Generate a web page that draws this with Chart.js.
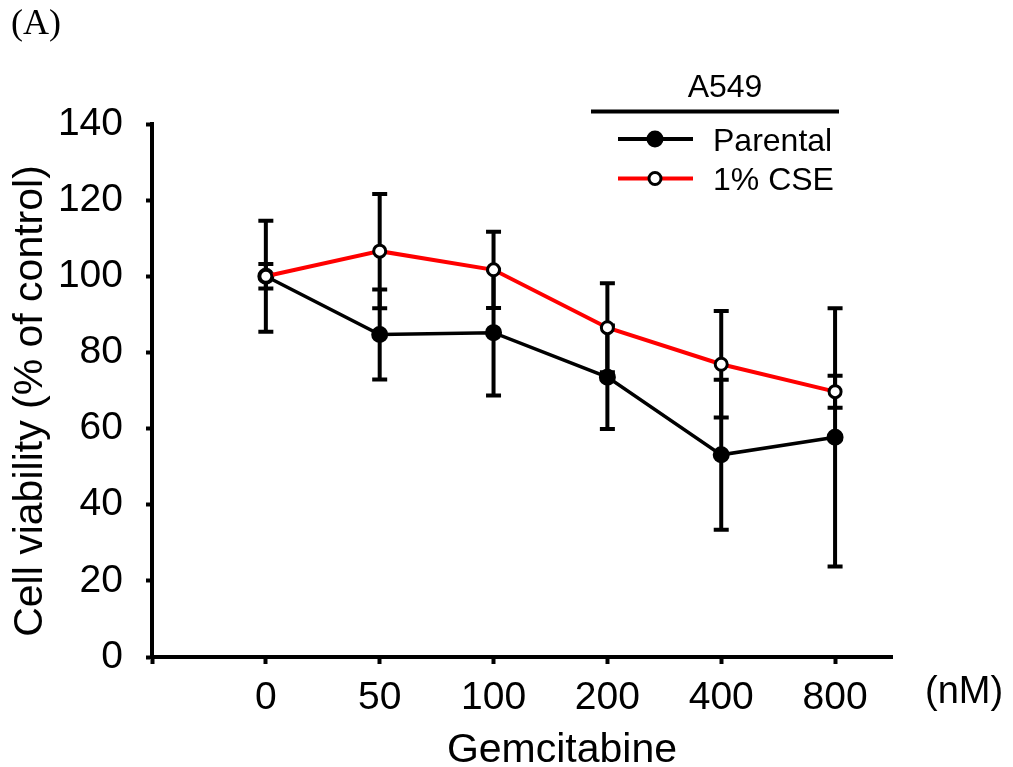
<!DOCTYPE html>
<html>
<head>
<meta charset="utf-8">
<script src="https://cdn.jsdelivr.net/npm/chart.js@4"></script>
<style>
  body { margin: 0; background: #fff; }
  #chart { display: block; }
</style>
</head>
<body>
<canvas id="chart" width="1013" height="767"></canvas>
<script>
// values
var xLabels = ['0', '50', '100', '200', '400', '800'];
var xTicks = [-1, 0, 1, 2, 3, 4, 5];
var yTicks = [0, 20, 40, 60, 80, 100, 120, 140];
var parental = [100, 84.7, 85.2, 73.5, 53.1, 57.7];
var parentalErr = [3.2, 11.8, 16.5, 13.6, 19.7, 33.9];
var cse = [100, 106.6, 101.7, 86.5, 76.9, 69.7];
var cseErr = [14.6, 15.0, 10.0, 11.7, 14.0, 4.2];

var FONT = "'Liberation Sans', Arial, sans-serif";

function toPoints(vals) {
    return vals.map(function (v, i) { return { x: i, y: v }; });
}

// error bars, drawn under the lines and markers
var errorBars = {
    id: 'errorBars',
    beforeDatasetsDraw: function (chart) {
        var ctx = chart.ctx;
        var xs = chart.scales.x, ys = chart.scales.y;
        ctx.save();
        ctx.strokeStyle = '#000';
        ctx.lineWidth = 4;
        chart.data.datasets.forEach(function (ds) {
            ds.data.forEach(function (p, i) {
                var e = ds.errors[i];
                var px = xs.getPixelForValue(p.x);
                var top = ys.getPixelForValue(p.y + e);
                var bot = ys.getPixelForValue(p.y - e);
                ctx.beginPath();
                ctx.moveTo(px, top); ctx.lineTo(px, bot);
                ctx.moveTo(px - 7.5, top); ctx.lineTo(px + 7.5, top);
                ctx.moveTo(px - 7.5, bot); ctx.lineTo(px + 7.5, bot);
                ctx.stroke();
            });
        });
        ctx.restore();
    }
};

// titles, unit, panel letter and the legend
var extras = {
    id: 'extras',
    afterDraw: function (chart) {
        var ctx = chart.ctx;
        ctx.save();
        ctx.fillStyle = '#000';

        ctx.font = "36px 'Liberation Serif', 'Times New Roman', serif";
        ctx.textAlign = 'left';
        ctx.textBaseline = 'alphabetic';
        ctx.fillText('(A)', 11, 34);

        ctx.font = '41px ' + FONT;
        ctx.textAlign = 'center';
        ctx.fillText('Gemcitabine', 562, 762);

        ctx.save();
        ctx.translate(42, 401);
        ctx.rotate(-Math.PI / 2);
        ctx.fillText('Cell viability (% of control)', 0, 0);
        ctx.restore();

        ctx.font = '38px ' + FONT;
        ctx.textAlign = 'left';
        ctx.fillText('(nM)', 925, 703);

        // legend
        ctx.font = '32px ' + FONT;
        ctx.textAlign = 'center';
        ctx.fillText('A549', 725, 97);
        ctx.strokeStyle = '#000';
        ctx.lineWidth = 4;
        ctx.beginPath();
        ctx.moveTo(591, 111.5); ctx.lineTo(839, 111.5);
        ctx.stroke();

        var rows = [139, 178.5];
        ctx.textAlign = 'left';
        chart.data.datasets.forEach(function (ds, k) {
            var y = rows[k];
            ctx.strokeStyle = ds.borderColor;
            ctx.lineWidth = 4;
            ctx.beginPath();
            ctx.moveTo(618, y); ctx.lineTo(693, y);
            ctx.stroke();
            ctx.beginPath();
            ctx.arc(655, y, ds.pointRadius, 0, Math.PI * 2);
            ctx.fillStyle = ds.pointBackgroundColor;
            ctx.fill();
            ctx.lineWidth = ds.pointBorderWidth;
            ctx.strokeStyle = ds.pointBorderColor;
            if (ds.pointBorderWidth > 0) ctx.stroke();
            ctx.fillStyle = '#000';
            ctx.fillText(ds.label, 713, y + 11.5);
        });
        ctx.restore();
    }
};

var ctx1 = document.getElementById('chart').getContext('2d');

var chart1 = new Chart(ctx1, {
    type: 'line',
    data: {
        datasets: [{
            label: 'Parental',
            data: toPoints(parental),
            errors: parentalErr,
            borderColor: '#000',
            borderWidth: 3.5,
            pointRadius: 7.5,
            pointBackgroundColor: '#000',
            pointBorderColor: '#000',
            pointBorderWidth: 2,
            order: 1
        }, {
            label: '1% CSE',
            data: toPoints(cse),
            errors: cseErr,
            borderColor: '#ff0000',
            borderWidth: 4,
            pointRadius: 6,
            pointBackgroundColor: '#fff',
            pointBorderColor: '#000',
            pointBorderWidth: 3,
            order: 0
        }]
    },
    options: {
        responsive: false,
        animation: false,
        layout: { padding: { top: 124, right: 121, left: 0, bottom: 0 } },
        plugins: {
            legend: { display: false },
            tooltip: { enabled: false }
        },
        scales: {
            x: {
                type: 'linear',
                min: -1,
                max: 5.5,
                afterFit: function (s) { s.height = 110; },
                afterBuildTicks: function (s) {
                    s.ticks = xTicks.map(function (v) { return { value: v }; });
                },
                grid: { drawOnChartArea: false, drawTicks: true, tickLength: 7, tickWidth: 4, tickColor: '#000' },
                border: { display: true, color: '#000', width: 4 },
                ticks: {
                    color: '#000',
                    padding: 11,
                    maxRotation: 0,
                    autoSkip: false,
                    font: { family: FONT, size: 39 },
                    callback: function (v) { return v >= 0 ? xLabels[v] : ''; }
                }
            },
            y: {
                min: 0,
                max: 140,
                afterFit: function (s) { s.width = 152; },
                afterBuildTicks: function (s) {
                    s.ticks = yTicks.map(function (v) { return { value: v }; });
                },
                grid: { drawOnChartArea: false, drawTicks: true, tickLength: 6, tickWidth: 4, tickColor: '#000' },
                border: { display: true, color: '#000', width: 4 },
                ticks: {
                    color: '#000',
                    padding: 23,
                    font: { family: FONT, size: 39 }
                }
            }
        }
    },
    plugins: [errorBars, extras]
});
</script>
</body>
</html>
